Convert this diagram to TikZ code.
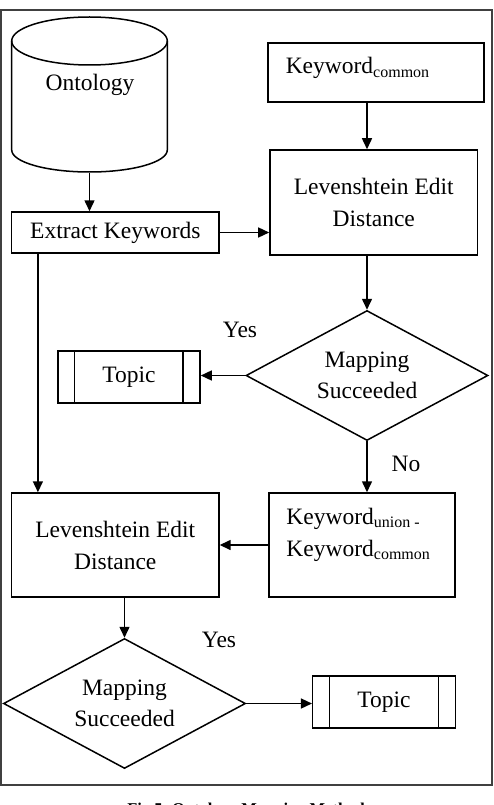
\documentclass[tikz,border=0pt]{standalone}
\usepackage{fontspec}
\setmainfont{Liberation Serif}
\usetikzlibrary{shapes.geometric,arrows.meta}
\newcommand{\sbs}[1]{{\fontsize{16}{16}\selectfont\raisebox{-3.5pt}{#1}}}
\begin{document}
\begin{tikzpicture}[x=1pt,y=-1pt, line width=1.5pt,
  every node/.style={font=\fontsize{23.5}{32}\selectfont},
  box/.style={draw, rectangle, inner sep=0pt},
  arr/.style={-{Triangle[length=11pt,width=10pt]}},
  dec/.style={draw, diamond, aspect=1.86, inner sep=0pt, minimum width=242pt, minimum height=130pt, align=center, font=\fontsize{23.5}{31}\selectfont},
  lbl/.style={anchor=base, inner sep=0pt}]
\useasboundingbox (0,0) rectangle (493,805);
% frame
\draw[line width=2.2pt, black!75] (1,10) rectangle (491.8,785);
% ontology cylinder
\node[minimum width=155.6pt, minimum height=155pt, inner sep=0pt] (onto) at (89.5,94.5) {};
\draw (11.7,41) -- (11.7,150) .. controls (11.7,162.15) and (46.53,172) .. (89.5,172) .. controls (132.47,172) and (167.3,162.15) .. (167.3,150) -- (167.3,41);
\draw (11.7,41) .. controls (11.7,27.74) and (46.53,17) .. (89.5,17) .. controls (132.47,17) and (167.3,27.74) .. (167.3,41) .. controls (167.3,54.26) and (132.47,65) .. (89.5,65) .. controls (46.53,65) and (11.7,54.26) .. (11.7,41) -- cycle;
\node (ontot) at (90,85) {Ontology};
% boxes
\node[box, minimum width=207.3pt, minimum height=41pt] (ek) at (115.3,232.5) {Extract Keywords};
\node[box, minimum width=216pt, minimum height=59pt] (kwc) at (376,72.5) {};
\node[anchor=base west, inner sep=0pt] (kwct) at (285,74) {Keyword\sbs{common}};
\node[box, minimum width=207.7pt, minimum height=105pt, align=center] (lev1) at (373.8,202.5) {Levenshtein Edit\\Distance};
\node[dec] (dia1) at (367,375.5) {Mapping\\Succeeded};
\node[box, minimum width=142.3pt, minimum height=52pt] (t1) at (128.9,377) {Topic};
\draw ([xshift=17.7pt]t1.north west) -- ([xshift=17.7pt]t1.south west);
\draw ([xshift=-17.7pt]t1.north east) -- ([xshift=-17.7pt]t1.south east);
\node[box, minimum width=186pt, minimum height=104pt] (kwu) at (362,545) {};
\node[anchor=north west, inner sep=0pt, align=left] (kwut) at (285.7,507) {Keyword\sbs{union -}\\Keyword\sbs{common}};
\node[box, minimum width=207.3pt, minimum height=104pt, align=center] (lev2) at (115.3,545) {Levenshtein Edit\\Distance};
\node[dec] (dia2) at (124.5,703.5) {Mapping\\Succeeded};
\node[box, minimum width=142.6pt, minimum height=52pt] (t2) at (384,702) {Topic};
\draw ([xshift=17.7pt]t2.north west) -- ([xshift=17.7pt]t2.south west);
\draw ([xshift=-17.7pt]t2.north east) -- ([xshift=-17.7pt]t2.south east);
% labels
\node[lbl] (yes1) at (240,337) {Yes};
\node[lbl] (no1) at (406,471) {No};
\node[lbl] (yes2) at (219,647) {Yes};
% caption (cut off at the bottom, as in the reference)
\node[anchor=base, inner sep=0pt, font=\fontsize{16.5}{20}\selectfont\bfseries] (cap) at (246,814) {Fig.5. Ontology Mapping Method};
% connectors
\draw[arr] (onto.south) -- (onto.south |- ek.north);
\draw[arr] (ek.east) -- (ek.east -| lev1.west);
\draw[arr] (dia1.north |- kwc.south) -- (dia1.north |- lev1.north);
\draw[arr] (dia1.north |- lev1.south) -- (dia1.north);
\draw[arr] (dia1.west) -- (dia1.west -| t1.east);
\draw[arr] (dia1.south) -- (dia1.south |- kwu.north);
\draw[arr] ([xshift=27pt]ek.south west) -- ([xshift=27pt]lev2.north west);
\draw[arr] (kwu.west) -- (kwu.west -| lev2.east);
\draw[arr] (dia2.north |- lev2.south) -- (dia2.north);
\draw[arr] (dia2.east) -- (dia2.east -| t2.west);
\end{tikzpicture}
\end{document}
